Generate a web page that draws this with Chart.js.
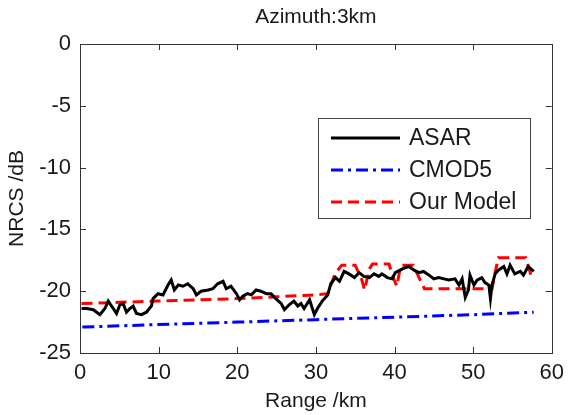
<!DOCTYPE html>
<html>
<head>
<meta charset="utf-8">
<script src="https://cdn.jsdelivr.net/npm/chart.js@4/dist/chart.umd.min.js"></script>
<style>
  html, body { margin: 0; padding: 0; background: #fff; }
  #wrap { width: 571px; height: 415px; }
</style>
</head>
<body>
<div id="wrap"><canvas id="chart" width="571" height="415"></canvas></div>
<script>
// Values
const chartTitle = 'Azimuth:3km';
const xTicks = [0, 10, 20, 30, 40, 50, 60];
const yTicks = [0, -5, -10, -15, -20, -25];

const asarRange = [0.2, 0.84, 1.69, 2.53, 3.17, 3.59, 4.01, 4.65, 5.07, 5.49, 5.91, 6.34, 6.76, 7.18, 7.82,
    8.45, 9.08, 9.29, 9.93, 10.56, 11.19, 11.6, 12.0, 12.5, 13.1, 13.7, 14.4, 14.8, 15.4, 16.3, 16.9,
    17.5, 18.2, 18.6, 19.2, 19.9, 20.3, 20.7, 21.3, 21.8, 22.4, 23.0, 23.7, 24.3, 24.9, 25.6, 26.0,
    26.6, 27.2, 27.7, 28.1, 28.5, 29.2, 29.8, 30.2, 30.8, 31.5, 31.9, 32.5, 33.0, 33.6, 34.2, 34.9,
    35.5, 36.1, 36.8, 37.4, 38.0, 38.4, 39.1, 39.7, 40.1, 41.0, 41.8, 42.5, 43.1, 43.7, 44.4, 45.0,
    45.6, 46.3, 46.9, 47.7, 48.2, 48.6, 49.0, 49.4, 49.6, 50.1, 50.5, 51.1, 51.5, 52.0, 52.2, 52.4,
    52.8, 53.2, 53.9, 54.3, 54.7, 55.3, 56.0, 56.4, 57.0, 57.7];
const asarNrcs = [-21.4, -21.4, -21.5, -21.9, -21.4, -20.8, -21.2, -21.8, -21.1, -21.0, -21.7, -21.4, -21.2, -21.8, -21.9,
    -21.7, -21.2, -20.6, -20.2, -20.3, -19.5, -19.1, -19.9, -19.5, -19.6, -19.4, -19.8, -20.3, -20.0, -19.9, -19.8,
    -19.4, -19.2, -19.8, -19.6, -20.2, -20.7, -20.4, -20.2, -20.3, -19.9, -20.0, -20.2, -20.2, -20.6, -21.0, -21.5,
    -21.1, -20.8, -21.2, -21.0, -21.4, -20.7, -21.9, -21.4, -20.8, -20.3, -19.4, -18.9, -19.2, -18.4, -18.6, -18.9,
    -18.5, -18.8, -18.9, -18.6, -18.8, -18.6, -18.9, -19.0, -18.5, -18.2, -18.0, -18.3, -18.5, -18.4, -18.7, -19.0,
    -18.9, -19.0, -19.1, -19.0, -19.5, -19.0, -20.5, -19.9, -18.7, -19.5, -19.1, -18.9, -19.3, -19.5, -20.6, -19.5,
    -18.6, -18.3, -18.0, -18.6, -17.9, -18.6, -18.4, -18.7, -18.0, -18.4];

const cmodRange = [0.3, 10, 20, 30, 40, 50, 57.7];
const cmodNrcs = [-22.9, -22.7, -22.5, -22.3, -22.1, -21.9, -21.7];

const modelRange = [0.2, 5, 10, 15, 20, 25, 30, 31.5, 32.5, 33.3, 35.0, 35.8, 36.2, 36.8, 37.2, 39.3, 39.9,
    40.3, 40.7, 41.0, 42.4, 43.2, 43.8, 52.4, 52.8, 53.2, 56.7, 57.5];
const modelNrcs = [-21.0, -20.9, -20.8, -20.7, -20.6, -20.45, -20.3, -20.2, -18.5, -17.9, -17.9, -19.0, -19.9, -18.2, -17.8, -17.8, -19.0,
    -19.6, -18.2, -17.9, -17.9, -19.0, -19.8, -19.8, -18.5, -17.3, -17.3, -19.0];

const seriesNames = ['ASAR', 'CMOD5', 'Our Model'];
const seriesColors = ['#000000', '#0000ff', '#ff0000'];
const seriesDash = [[], [12, 5, 3, 5], [11, 6]];

const FONT = '"Liberation Sans", Arial, sans-serif';
const TEXT = '#1a1a1a';

function toPoints(xs, ys) {
    return xs.map((x, i) => ({ x: x, y: ys[i] }));
}

// MATLAB-style box with inward ticks, title over the axes, framed legend inside
const boxPlugin = {
    id: 'boxPlugin',
    afterDatasetsDraw(chart) {
        const { ctx, chartArea: a } = chart;
        const xs = chart.scales.x, ys = chart.scales.y;
        const len = 6;
        ctx.save();
        ctx.strokeStyle = '#333';
        ctx.lineWidth = 1;
        ctx.setLineDash([]);
        ctx.beginPath();
        xTicks.forEach(v => {
            const px = Math.round(xs.getPixelForValue(v)) + 0.5;
            ctx.moveTo(px, a.bottom); ctx.lineTo(px, a.bottom - len);
            ctx.moveTo(px, a.top); ctx.lineTo(px, a.top + len);
        });
        yTicks.forEach(v => {
            const py = Math.round(ys.getPixelForValue(v)) + 0.5;
            ctx.moveTo(a.left, py); ctx.lineTo(a.left + len, py);
            ctx.moveTo(a.right, py); ctx.lineTo(a.right - len, py);
        });
        ctx.stroke();
        ctx.strokeRect(Math.round(a.left) + 0.5, Math.round(a.top) + 0.5,
            Math.round(a.right - a.left), Math.round(a.bottom - a.top));

        // title, centred over the plot box
        ctx.fillStyle = TEXT;
        ctx.font = '21px ' + FONT;
        ctx.textAlign = 'center';
        ctx.textBaseline = 'middle';
        ctx.fillText(chartTitle, (a.left + a.right) / 2, 17);

        // legend
        const lx = 318, ly = 118, lw = 212, lh = 100;
        ctx.fillStyle = '#fff';
        ctx.fillRect(lx, ly, lw, lh);
        ctx.strokeStyle = '#444';
        ctx.strokeRect(lx + 0.5, ly + 0.5, lw, lh);
        ctx.font = '23px ' + FONT;
        ctx.textAlign = 'left';
        chart.data.datasets.forEach((ds, i) => {
            const y = ly + 20 + i * 32;
            ctx.beginPath();
            ctx.strokeStyle = ds.borderColor;
            ctx.lineWidth = 3;
            ctx.setLineDash(ds.borderDash);
            ctx.moveTo(lx + 13, y);
            ctx.lineTo(lx + 82, y);
            ctx.stroke();
            ctx.setLineDash([]);
            ctx.fillStyle = TEXT;
            ctx.fillText(ds.label, lx + 91, y + 1);
        });
        ctx.restore();
    }
};

new Chart(document.getElementById('chart'), {
    type: 'line',
    data: {
        datasets: [
            { data: toPoints(asarRange, asarNrcs) },
            { data: toPoints(cmodRange, cmodNrcs) },
            { data: toPoints(modelRange, modelNrcs) }
        ].map((ds, i) => Object.assign(ds, {
            label: seriesNames[i],
            borderColor: seriesColors[i],
            backgroundColor: seriesColors[i],
            borderDash: seriesDash[i],
            borderWidth: 3,
            pointRadius: 0,
            tension: 0,
            fill: false
        }))
    },
    options: {
        responsive: false,
        animation: false,
        devicePixelRatio: 1,
        layout: { padding: { left: 0, right: 18, top: 44, bottom: 0 } },
        plugins: {
            legend: { display: false },
            tooltip: { enabled: false },
            title: { display: false }
        },
        scales: {
            x: {
                type: 'linear',
                min: 0,
                max: 60,
                afterFit: s => { s.height = 62; },
                afterBuildTicks: s => { s.ticks = xTicks.map(v => ({ value: v })); },
                grid: { display: false, drawTicks: false },
                border: { display: false },
                ticks: { color: TEXT, padding: 7, font: { family: FONT, size: 22 }, maxRotation: 0 },
                title: {
                    display: true,
                    text: 'Range /km',
                    color: TEXT,
                    font: { family: FONT, size: 21 },
                    padding: { top: 0, bottom: 1 }
                }
            },
            y: {
                min: -25,
                max: 0,
                afterFit: s => { s.width = 80; },
                afterBuildTicks: s => { s.ticks = yTicks.map(v => ({ value: v })); },
                grid: { display: false, drawTicks: false },
                border: { display: false },
                ticks: { color: TEXT, padding: 9, font: { family: FONT, size: 22 } },
                title: {
                    display: true,
                    text: 'NRCS /dB',
                    color: TEXT,
                    font: { family: FONT, size: 21 },
                    padding: { top: 5, bottom: 0 }
                }
            }
        }
    },
    plugins: [boxPlugin]
});
</script>
</body>
</html>
